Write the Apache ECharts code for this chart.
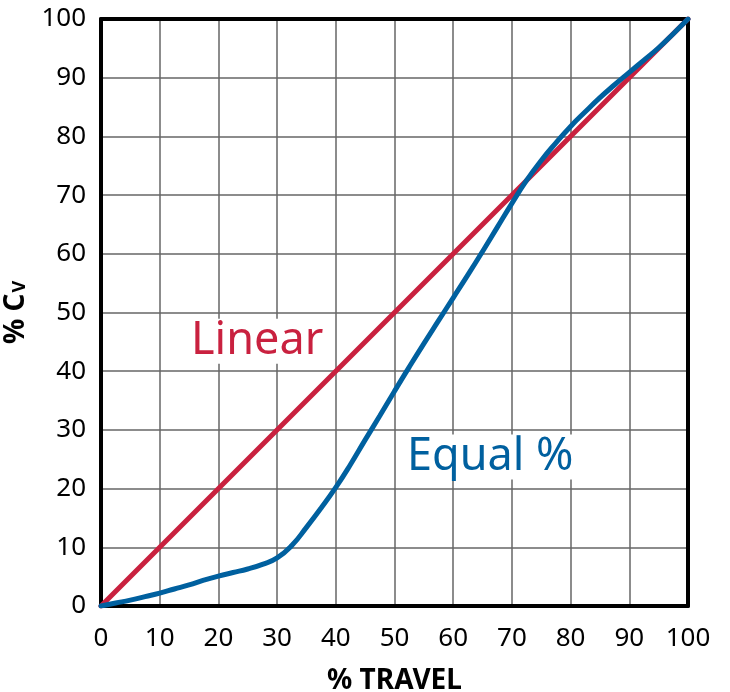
<!DOCTYPE html>
<html>
<head>
<meta charset="utf-8">
<script src="https://cdn.jsdelivr.net/npm/echarts@6/dist/echarts.min.js"></script>
<style>html,body{margin:0;padding:0;background:#fff}#c{width:730px;height:692px}</style>
</head>
<body>
<div id="c"></div>
<script>
var ticks = [0, 10, 20, 30, 40, 50, 60, 70, 80, 90, 100];
var linearSeries = [[0, 0], [100, 100]];
var equalSeries = [
  [0, 0], [2.5, 0.5], [5, 1.0], [7.5, 1.6], [10, 2.2], [12.5, 2.9], [15, 3.6], [17.5, 4.4],
  [20, 5.1], [22.5, 5.7], [25, 6.3], [27.5, 7.1], [30, 8.2], [32.5, 10.3], [35, 13.4],
  [37.5, 16.7], [40, 20.2], [42.5, 24.1], [45, 28.3], [47.5, 32.4], [50, 36.6], [52.5, 40.7],
  [55, 44.7], [57.5, 48.6], [60, 52.5], [62.5, 56.4], [65, 60.4], [67.5, 64.5], [70, 68.6],
  [72.5, 72.5], [75, 75.9], [77.5, 78.9], [80, 81.7], [82.5, 84.2], [85, 86.6], [87.5, 88.8],
  [90, 90.9], [92.5, 93.0], [95, 95.1], [97.5, 97.5], [100, 100]
];
var annotations = [
  { name: 'Linear', coord: [26.6, 45.1] },
  { name: 'Equal %', coord: [66.3, 25.4] }
];
var RED = '#c9213f', BLUE = '#00609f';
var FONT = 'Noto Sans';

var chart = echarts.init(document.getElementById('c'));
var axisLine = { show: true, onZero: false, lineStyle: { color: '#000', width: 4 } };
function mp(a, color) {
  return {
    symbol: 'circle', symbolSize: 1, itemStyle: { color: 'rgba(0,0,0,0)' }, z: 10,
    data: [{ name: a.name, coord: a.coord }],
    label: { show: true, position: 'inside', formatter: '{b}', color: color, fontSize: 45, fontFamily: FONT,
      backgroundColor: '#fff', padding: [0, 2, 0, 2] }
  };
}
chart.setOption({
  animation: false,
  textStyle: { fontFamily: FONT },
  grid: { left: 101, right: 42, top: 19, bottom: 86, outerBoundsMode: 'none', containLabel: false },
  xAxis: [{
    type: 'value', min: 0, max: 100, interval: 10, position: 'bottom',
    axisLine: axisLine, axisTick: { show: false },
    axisLabel: { color: '#000', fontSize: 26, fontFamily: FONT, margin: 20,
      formatter: function (v) { return ticks.indexOf(v) >= 0 ? String(v) : ''; } },
    splitLine: { show: true, lineStyle: { color: '#666', width: 1.5 } },
    name: '% TRAVEL', nameLocation: 'middle', nameGap: 61,
    nameTextStyle: { color: '#000', fontSize: 28, fontWeight: 'bold', fontFamily: FONT }
  }, {
    type: 'value', min: 0, max: 100, position: 'top',
    axisLine: axisLine, axisTick: { show: false }, axisLabel: { show: false }, splitLine: { show: false }
  }],
  yAxis: [{
    type: 'value', min: 0, max: 100, interval: 10, position: 'left',
    axisLine: axisLine, axisTick: { show: false },
    axisLabel: { color: '#000', fontSize: 26, fontFamily: FONT, margin: 15,
      formatter: function (v) { return ticks.indexOf(v) >= 0 ? String(v) : ''; } },
    splitLine: { show: true, lineStyle: { color: '#666', width: 1.5 } },
    name: '{a|% C}{b|V}', nameLocation: 'middle', nameGap: 51,
    nameTextStyle: {
      color: '#000', fontFamily: FONT,
      rich: {
        a: { fontSize: 28, fontWeight: 'bold', fontFamily: FONT, color: '#000', verticalAlign: 'bottom' },
        b: { fontSize: 18, fontWeight: 'bold', fontFamily: FONT, color: '#000', verticalAlign: 'bottom', padding: [0, 0, 2, 1] }
      }
    }
  }, {
    type: 'value', min: 0, max: 100, position: 'right',
    axisLine: axisLine, axisTick: { show: false }, axisLabel: { show: false }, splitLine: { show: false }
  }],
  series: [{
    name: 'Linear', type: 'line', data: linearSeries, showSymbol: false, symbol: 'none',
    lineStyle: { color: RED, width: 5, cap: 'round' }, z: 3,
    markPoint: mp(annotations[0], RED)
  }, {
    name: 'Equal %', type: 'line', data: equalSeries, showSymbol: false, symbol: 'none',
    smooth: 0.5,
    lineStyle: { color: BLUE, width: 5, cap: 'round' }, z: 4,
    markPoint: mp(annotations[1], BLUE)
  }]
});
</script>
</body>
</html>
